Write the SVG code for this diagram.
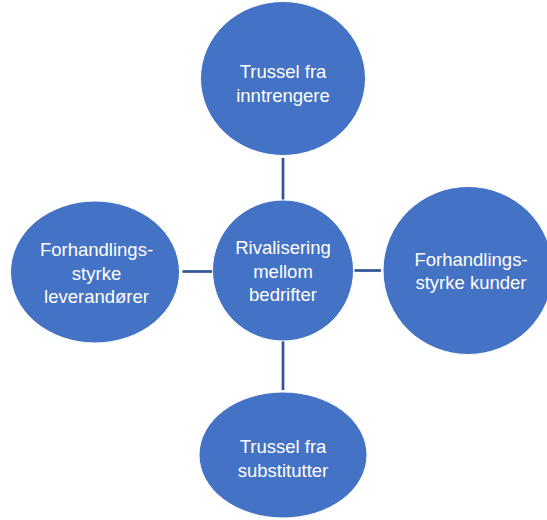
<svg xmlns="http://www.w3.org/2000/svg" width="547" height="520" viewBox="0 0 547 520">
  <style>
    .node { fill: #4472C4; stroke: #FFFFFF; stroke-width: 1; }
    .lbl { fill: #FFFFFF; font-family: "Liberation Sans", Arial, sans-serif; font-size: 18.5px; text-anchor: middle; }
    .conn { stroke: #2F5597; stroke-width: 2.7; fill: none; }
  </style>
  <rect x="0" y="0" width="547" height="520" fill="#FFFFFF"/>
  <g id="connectors">
    <line class="conn" x1="283" y1="158" x2="283" y2="200"/>
    <line class="conn" x1="182.5" y1="271.5" x2="212.5" y2="271.5"/>
    <line class="conn" x1="354.5" y1="270.5" x2="381" y2="270.5"/>
    <line class="conn" x1="283" y1="341" x2="283" y2="390"/>
  </g>
  <g id="node-top">
    <ellipse class="node" cx="283" cy="78.5" rx="82.5" ry="77"/>
    <text class="lbl" x="283" y="77.5">Trussel fra</text>
    <text class="lbl" x="283" y="101.5">inntrengere</text>
  </g>
  <g id="node-left">
    <ellipse class="node" cx="95" cy="272" rx="84.5" ry="71"/>
    <text class="lbl" x="96.5" y="256">Forhandlings-</text>
    <text class="lbl" x="96.5" y="279.5">styrke</text>
    <text class="lbl" x="96.5" y="302.5">leverandører</text>
  </g>
  <g id="node-center">
    <ellipse class="node" cx="283" cy="270.5" rx="70.5" ry="70.5"/>
    <text class="lbl" x="283" y="254">Rivalisering</text>
    <text class="lbl" x="283" y="277.5">mellom</text>
    <text class="lbl" x="283" y="300.5">bedrifter</text>
  </g>
  <g id="node-right">
    <ellipse class="node" cx="468" cy="270.5" rx="85" ry="84"/>
    <text class="lbl" x="471" y="266">Forhandlings-</text>
    <text class="lbl" x="471" y="289">styrke kunder</text>
  </g>
  <g id="node-bottom">
    <ellipse class="node" cx="283" cy="455" rx="84" ry="63"/>
    <text class="lbl" x="283" y="453">Trussel fra</text>
    <text class="lbl" x="283" y="477">substitutter</text>
  </g>
</svg>
